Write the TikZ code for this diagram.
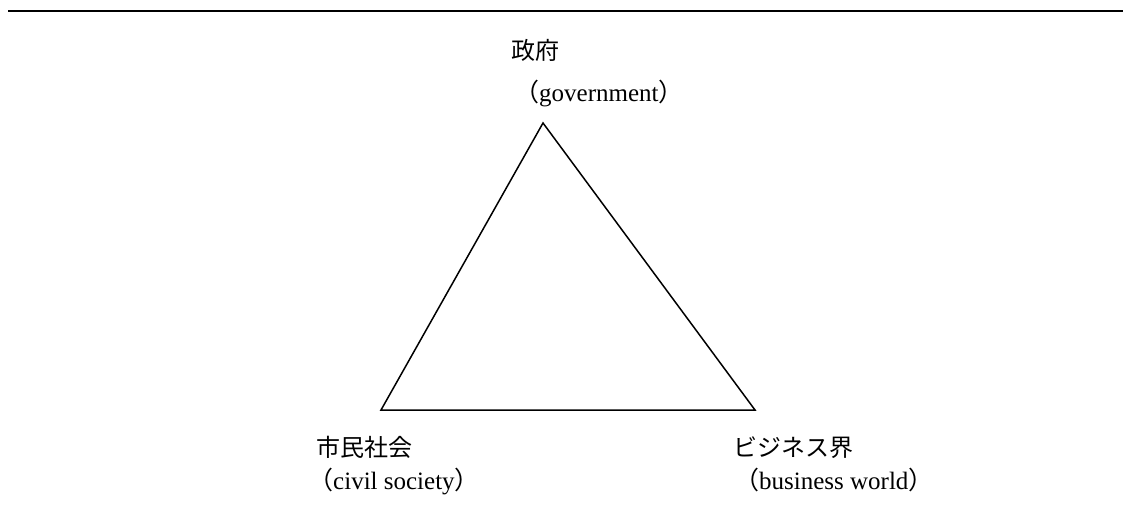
\documentclass[tikz,border=0pt]{standalone}
\usepackage{fontspec}
\setmainfont{Liberation Serif}
\newfontfamily\cjk{Noto Sans CJK JP}
\newcommand{\lpar}{{\cjk （}}
\newcommand{\rpar}{{\cjk ）}}
\begin{document}
\begin{tikzpicture}[x=1pt,y=-1pt,
  lbl/.style={anchor=base west,inner sep=0pt,font=\fontsize{24}{28}\selectfont\cjk},
  elbl/.style={anchor=base west,inner sep=0pt,font=\fontsize{25}{29}\selectfont},
  edge/.style={line width=1.5pt,line join=miter}]
\useasboundingbox (0,0) rectangle (1123,516);
\coordinate (rl) at (8,11);
\coordinate (rr) at (1123,11);
\draw[line width=2pt] (rl) -- (rr);
\coordinate (gov) at (543,123);
\coordinate (civ) at (381,410);
\coordinate (bus) at (755,410);
\draw[edge] (gov) -- (civ) -- (bus) -- cycle;
\node[lbl] (govj) at (511,60) {政府};
\node[elbl] (gove) at (514,102) {\lpar government\rpar};
\node[lbl] (civj) at (316,456) {市民社会};
\node[elbl] (cive) at (308,489) {\lpar civil society\rpar};
\node[lbl] (busj) at (733,456) {ビジネス界};
\node[elbl] (buse) at (734,489) {\lpar business world\rpar};
\end{tikzpicture}
\end{document}
